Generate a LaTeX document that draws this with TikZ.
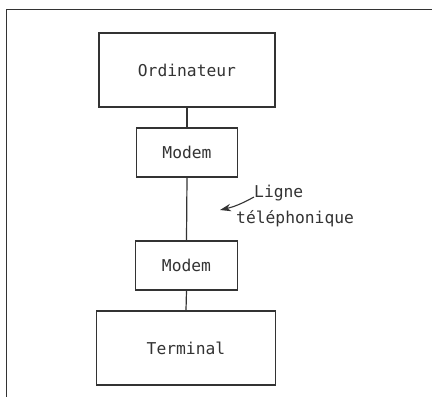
\documentclass[tikz,border=0pt]{standalone}
\usepackage{fontspec}
\setmonofont{DejaVu Sans Mono}
\usetikzlibrary{arrows.meta}
\definecolor{ink}{HTML}{333333}
\begin{document}
\begin{tikzpicture}[x=1pt,y=-1pt,
  box/.style={draw=ink,line width=1.2pt,inner sep=0pt,font=\ttfamily\fontsize{16.3}{19}\selectfont,text=ink},
  lbl/.style={inner sep=0pt,font=\ttfamily\fontsize{16.3}{19}\selectfont,text=ink},
  conn/.style={draw=ink,line width=1.2pt}]
\useasboundingbox (0,0) rectangle (432,397);
\fill[white] (0,0) rectangle (432,397);
\draw[ink,line width=1.3pt] (432,9.5) -- (6.5,9.5) -- (6.5,397);
\node[box,minimum width=176pt,minimum height=74pt] (ord) at (187,70) {Ordinateur};
\node[box,minimum width=101pt,minimum height=49pt] (m1) at (187,152.5) {Modem};
\node[box,minimum width=102pt,minimum height=49pt] (m2) at (186.5,265.5) {Modem};
\node[box,minimum width=179pt,minimum height=74pt] (term) at (186,348) {Terminal};
\draw[conn] (ord.south) -- (m1.north);
\draw[conn] (m1.south) -- (m2.north);
\draw[conn] (m2.south) -- (term.north);
\node[lbl,anchor=base west] (lig) at (254,197) {Ligne};
\node[lbl,anchor=base west] (tel) at (236,223) {téléphonique};
\coordinate (tip) at (220,210);
\draw[conn,line width=1.1pt,-{Stealth[length=11pt,width=7.5pt]}] (lig.base west) to[bend left=8] (tip);
\end{tikzpicture}
\end{document}
